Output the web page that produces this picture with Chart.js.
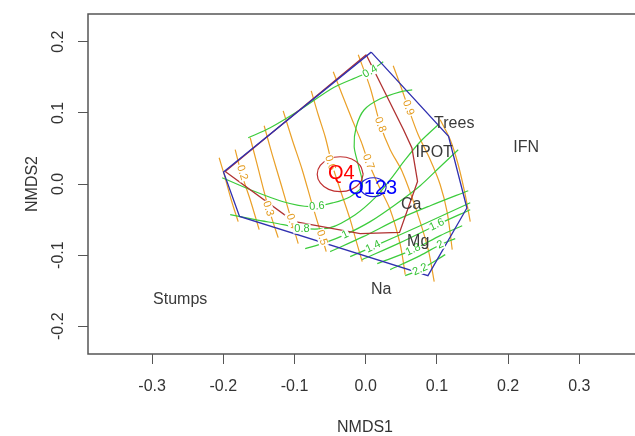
<!DOCTYPE html>
<html>
<head>
<meta charset="utf-8">
<script src="https://cdn.jsdelivr.net/npm/chart.js@4.4.1/dist/chart.umd.min.js"></script>
<style>
html, body { margin: 0; padding: 0; overflow: hidden; background: #fff; }
canvas { display: block; }
</style>
</head>
<body>
<canvas id="nmds" width="650" height="436"></canvas>
<script>
// axis ticks
var xTicks = [-0.3, -0.2, -0.1, 0.0, 0.1, 0.2, 0.3];
var yTicks = [-0.2, -0.1, 0.0, 0.1, 0.2];

// species / env labels
var siteNames = ["Stumps", "Na", "IFN", "Trees", "IPOT", "Ca", "Mg"];
var siteX = [-0.2605, 0.0218, 0.2254, 0.1243, 0.0962, 0.0639, 0.0737];
var siteY = [-0.1625, -0.1485, 0.0510, 0.0846, 0.0440, -0.0291, -0.0803];

// group centroids
var groupNames = ["Q4", "Q123"];
var groupX = [-0.0344, 0.0098];
var groupY = [0.0145, -0.0066];
var groupColors = ["#ff0000", "#0000ff"];

// convex hull and group polygon
var hull = [[0.0077,0.1854],[0.1163,0.0669],[0.1421,-0.0337],[0.0874,-0.1288],[-0.1772,-0.0455],[-0.1997,0.0169],[0.0077,0.1854]];
var q4Poly = [[0.0007,0.1816],[0.0531,0.0763],[0.0649,0.0506],[0.0728,0.0037],[0.0475,-0.0680],[-0.0077,-0.0698],[-0.1014,-0.0525],[-0.1973,0.0177],[0.0007,0.1816]];

// ellipses
var q4Ell = [[-0.0035,0.0138],[-0.0079,0.0261],[-0.0197,0.0351],[-0.0358,0.0383],[-0.0520,0.0351],[-0.0638,0.0261],[-0.0681,0.0138],[-0.0638,0.0015],[-0.0520,-0.0076],[-0.0358,-0.0108],[-0.0197,-0.0076],[-0.0079,0.0015],[-0.0035,0.0138]];
var q123Ell = [[0.0288,-0.0045],[0.0264,0.0022],[0.0197,0.0070],[0.0105,0.0088],[0.0014,0.0070],[-0.0053,0.0022],[-0.0077,-0.0045],[-0.0053,-0.0112],[0.0014,-0.0160],[0.0105,-0.0178],[0.0197,-0.0160],[0.0264,-0.0112],[0.0288,-0.0045]];

// orange surface contours (0.1 .. 1.0)
var orange = [
  [[-0.2058,0.0369],[-0.1987,0.0131],[-0.1889,-0.0221],[-0.1791,-0.0529]],
  [[-0.1833,0.0482],[-0.1749,0.0159],[-0.1622,-0.0221],[-0.1496,-0.0642]],
  [[-0.1622,0.0650],[-0.1524,0.0271],[-0.1397,-0.0221],[-0.1313,-0.0501],[-0.1229,-0.0754]],
  [[-0.1426,0.0819],[-0.1313,0.0412],[-0.1187,-0.0010],[-0.1046,-0.0501],[-0.0948,-0.0838]],
  [[-0.1159,0.1029],[-0.1032,0.0622],[-0.0892,0.0201],[-0.0751,-0.0291],[-0.0611,-0.0754],[-0.0555,-0.0951]],
  [[-0.0765,0.1310],[-0.0667,0.0973],[-0.0569,0.0664],[-0.0471,0.0271],[-0.0358,-0.0080],[-0.0218,-0.0501],[-0.0119,-0.0853],[-0.0049,-0.1091]],
  [[-0.0456,0.1577],[-0.0330,0.1254],[-0.0190,0.0903],[-0.0063,0.0594],[0.0035,0.0313],[0.0176,-0.0010],[0.0344,-0.0361],[0.0485,-0.0853],[0.0555,-0.1274]],
  [[-0.0105,0.1816],[0.0063,0.1353],[0.0204,0.0833],[0.0344,0.0482],[0.0513,0.0173],[0.0709,-0.0361],[0.0878,-0.0923],[0.0962,-0.1372]],
  [[0.0386,0.1662],[0.0485,0.1395],[0.0597,0.1072],[0.0737,0.0692],[0.0906,0.0341],[0.1046,-0.0010],[0.1145,-0.0403],[0.1215,-0.0923]],
  [[0.1046,0.0903],[0.1187,0.0622],[0.1299,0.0271],[0.1397,-0.0150],[0.1468,-0.0529]]
];
var orangeLabels = ["0.2", "0.3", "0.4", "0.5", "0.6", "0.7", "0.8", "0.9"];
var orangeLabX = [-0.1735, -0.1369, -0.1037, -0.0615, -0.0499, 0.0035, 0.0204, 0.0597];
var orangeLabY = [0.0159, -0.0347, -0.0525, -0.0754, 0.0299, 0.0313, 0.0833, 0.1072];
var orangeLabAng = [73, 72, 72, 72, 72, 70, 70, 70];

// green surface contours (0.4 .. 2.2)
var green = [
  [[-0.1650,0.0650],[-0.1341,0.0791],[-0.0920,0.1044],[-0.0456,0.1353],[-0.0077,0.1521],[0.0091,0.1605],[0.0246,0.1718]],
  [[-0.2015,0.0088],[-0.1622,-0.0080],[-0.1159,-0.0249],[-0.0780,-0.0319],[-0.0456,-0.0263],[-0.0218,-0.0178],[-0.0049,-0.0024],[-0.0105,0.0271],[-0.0162,0.0524],[-0.0133,0.0805],[-0.0021,0.1044],[0.0204,0.1198],[0.0485,0.1296],[0.0653,0.1324]],
  [[-0.1903,-0.0431],[-0.1552,-0.0501],[-0.1159,-0.0572],[-0.0892,-0.0628],[-0.0499,-0.0614],[-0.0147,-0.0431],[0.0133,-0.0192],[0.0344,0.0060],[0.0555,0.0341],[0.0765,0.0594],[0.1018,0.0833]],
  [[-0.0850,-0.0909],[-0.0569,-0.0824],[-0.0288,-0.0712],[0.0063,-0.0529],[0.0414,-0.0291],[0.0765,-0.0024],[0.1046,0.0243],[0.1299,0.0482]],
  [[-0.0499,-0.0951],[-0.0035,-0.0740],[0.0442,-0.0501],[0.0906,-0.0305],[0.1440,-0.0094]],
  [[-0.0218,-0.1021],[0.0105,-0.0881],[0.0765,-0.0586],[0.1468,-0.0263]],
  [[-0.0049,-0.1063],[0.0485,-0.0824],[0.1004,-0.0572],[0.1468,-0.0361]],
  [[0.0162,-0.1119],[0.0667,-0.0923],[0.1046,-0.0726],[0.1355,-0.0586]],
  [[0.0344,-0.1204],[0.0765,-0.1007],[0.1046,-0.0853],[0.1257,-0.0768]],
  [[0.0555,-0.1288],[0.0765,-0.1204],[0.1117,-0.0993]]
];
var greenLabels = ["0.4", "0.6", "0.8", "1", "1.4", "1.6", "1.8", "2", "2.2"];
var greenLabX = [0.0063, -0.0685, -0.0896, -0.0288, 0.0105, 0.1000, 0.0667, 0.1046, 0.0765];
var greenLabY = [0.1581, -0.0315, -0.0628, -0.0712, -0.0881, -0.0572, -0.0923, -0.0853, -0.1204];
var greenLabAng = [-30, -5, 0, -25, -25, -25, -25, -25, -25];

var FONT = "'Liberation Sans', Arial, sans-serif";

function line(pts, color, tension, width) {
    return {
        data: pts.map(function(p){ return {x: p[0], y: p[1]}; }),
        borderColor: color, borderWidth: width || 1.2, pointRadius: 0,
        showLine: true, fill: false, tension: tension || 0
    };
}

var datasets = [];
datasets.push(line(q4Ell, "#c03030", 0.45));
datasets.push(line(q123Ell, "#2020d0", 0.45));
datasets.push(line(hull, "#3030b0", 0, 1.3));
datasets.push(line(q4Poly, "#b03232", 0, 1.3));
green.forEach(function(c){ datasets.push(line(c, "#3ccc3c", 0.3)); });
orange.forEach(function(c){ datasets.push(line(c, "#eaa028", 0.3)); });

var ordiText = {
    id: 'ordiText',
    afterDatasetsDraw: function(chart) {
        var ctx = chart.ctx, xs = chart.scales.x, ys = chart.scales.y;
        ctx.save();
        function contourLab(txt, x, y, ang, color) {
            var px = xs.getPixelForValue(x), py = ys.getPixelForValue(y);
            ctx.save();
            ctx.translate(px, py);
            ctx.rotate(ang * Math.PI / 180);
            ctx.font = "11px " + FONT;
            var w = ctx.measureText(txt).width;
            ctx.fillStyle = "#fff";
            ctx.fillRect(-w / 2 - 1, -5, w + 2, 10);
            ctx.fillStyle = color;
            ctx.textAlign = "center";
            ctx.textBaseline = "middle";
            ctx.fillText(txt, 0, 0);
            ctx.restore();
        }
        orangeLabels.forEach(function(t, i){ contourLab(t, orangeLabX[i], orangeLabY[i], orangeLabAng[i], "#e39a1c"); });
        greenLabels.forEach(function(t, i){ contourLab(t, greenLabX[i], greenLabY[i], greenLabAng[i], "#33c033"); });

        ctx.textAlign = "center";
        ctx.textBaseline = "middle";
        ctx.font = "16px " + FONT;
        ctx.fillStyle = "#3a3a3a";
        siteNames.forEach(function(t, i){
            ctx.fillText(t, xs.getPixelForValue(siteX[i]), ys.getPixelForValue(siteY[i]));
        });
        ctx.font = "20px " + FONT;
        groupNames.forEach(function(t, i){
            ctx.fillStyle = groupColors[i];
            ctx.fillText(t, xs.getPixelForValue(groupX[i]), ys.getPixelForValue(groupY[i]));
        });
        ctx.restore();
    },
    afterDraw: function(chart) {
        var a = chart.chartArea, ctx = chart.ctx;
        ctx.save();
        ctx.strokeStyle = "#555";
        ctx.lineWidth = 1.5;
        ctx.strokeRect(a.left, a.top, a.right - a.left, a.bottom - a.top);
        ctx.restore();
    }
};

new Chart(document.getElementById("nmds"), {
    type: 'scatter',
    data: { datasets: datasets },
    plugins: [ordiText],
    options: {
        responsive: false,
        animation: false,
        layout: { padding: { top: 14, right: 8, left: 0, bottom: 0 } },
        plugins: { legend: { display: false }, tooltip: { enabled: false } },
        scales: {
            x: {
                type: 'linear', min: -0.39, max: 0.388,
                afterBuildTicks: function(s){ s.ticks = xTicks.map(function(v){ return {value: v}; }); },
                afterFit: function(s){ s.height = 82; s.paddingLeft = 0; s.paddingRight = 0; },
                grid: { drawOnChartArea: false, drawTicks: true, tickLength: 10, color: '#555', lineWidth: 1 },
                border: { display: false },
                ticks: { padding: 13, color: '#333', autoSkip: false, maxRotation: 0,
                         font: { family: FONT, size: 16 },
                         callback: function(v){ return v.toFixed(1); } },
                title: { display: true, text: 'NMDS1', color: '#333',
                         font: { family: FONT, size: 16, lineHeight: 1 }, padding: { top: 0, bottom: 0 } }
            },
            y: {
                type: 'linear', min: -0.239, max: 0.239,
                afterBuildTicks: function(s){ s.ticks = yTicks.map(function(v){ return {value: v}; }); },
                afterFit: function(s){ s.width = 88; s.paddingTop = 0; s.paddingBottom = 0; },
                grid: { drawOnChartArea: false, drawTicks: true, tickLength: 10, color: '#555', lineWidth: 1 },
                border: { display: false },
                ticks: { padding: 6, color: '#333', autoSkip: false, minRotation: 90, maxRotation: 90,
                         crossAlign: 'center', font: { family: FONT, size: 16 },
                         callback: function(v){ return v.toFixed(1); } },
                title: { display: true, text: 'NMDS2', color: '#333',
                         font: { family: FONT, size: 16, lineHeight: 1 }, padding: { top: 25, bottom: 0 } }
            }
        }
    }
});
</script>
</body>
</html>
